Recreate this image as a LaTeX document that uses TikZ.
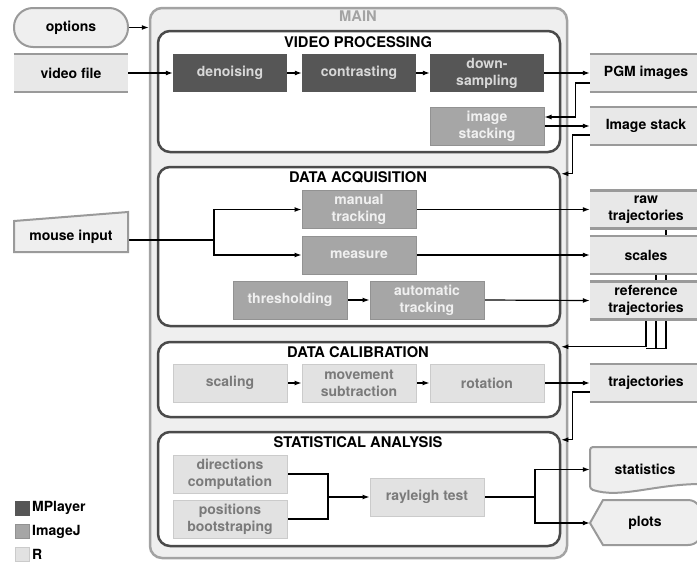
\documentclass[tikz,border=0pt]{standalone}
\usepackage{fontspec}
\setmainfont{TeX Gyre Heros}
\usetikzlibrary{arrows.meta}
\definecolor{mpl}{HTML}{565656}
\definecolor{mptext}{HTML}{D8D8D8}
\definecolor{ij}{HTML}{A6A6A6}
\definecolor{ijb}{HTML}{929292}
\definecolor{ijtext}{HTML}{F0F0F0}
\definecolor{rr}{HTML}{E2E2E2}
\definecolor{rrb}{HTML}{CBCBCB}
\definecolor{rrtext}{HTML}{7A7A7A}
\definecolor{outf}{HTML}{E8E8E8}
\definecolor{outb}{HTML}{9A9A9A}
\definecolor{mainf}{HTML}{EFEFEF}
\definecolor{mainb}{HTML}{A3A3A3}
\definecolor{subb}{HTML}{4A4A4A}
\pgfdeclarelayer{bg}
\pgfdeclarelayer{edges}
\pgfsetlayers{bg,edges,main}
\begin{document}
\begin{tikzpicture}[x=1pt,y=-1pt,
  every node/.style={font=\fontsize{14}{17}\selectfont\bfseries, align=center, inner sep=0pt},
  proc/.style={rectangle, minimum width=114pt, minimum height=38pt},
  mp/.style={proc, fill=mpl, text=mptext},
  ijn/.style={proc, fill=ij, draw=ijb, line width=1pt, text=ijtext},
  rn/.style={proc, fill=rr, draw=rrb, line width=1pt, text=rrtext},
  outn/.style={rectangle, fill=outf, minimum width=112pt, minimum height=38pt, text=black},
  subbox/.style={rectangle, draw=subb, fill=white, line width=2.5pt, rounded corners=12pt, minimum width=402pt},
  title/.style={text=black, font=\fontsize{14.7}{17}\selectfont\bfseries},
  arr/.style={-{Latex[length=7pt,width=5pt]}, line width=1.2pt},
  ln/.style={line width=1.2pt},
  shapeline/.style={draw=outb, fill=mainf, line width=2pt}
]
\useasboundingbox (0,0) rectangle (697,562);

\begin{pgfonlayer}{bg}
  \node[draw=mainb, fill=mainf, line width=2.5pt, rounded corners=12pt,
        minimum width=417pt, minimum height=550pt] (main) at (358.5,283) {};
  \node[subbox, minimum height=121pt] (vp) at (359,91.5) {};
  \node[subbox, minimum height=159pt] (da) at (359,246.5) {};
  \node[subbox, minimum height=75pt] (dc) at (359,379.5) {};
  \node[subbox, minimum height=114pt] (sa) at (359,489) {};
\end{pgfonlayer}

% titles
\node[title, text=mainb] (tmain) at (358,16) {MAIN};
\node[title] (tvp) at (358,42) {VIDEO PROCESSING};
\node[title] (tda) at (358,177) {DATA ACQUISITION};
\node[title] (tdc) at (358,352) {DATA CALIBRATION};
\node[title] (tsa) at (358,442) {STATISTICAL ANALYSIS};

% inputs
\node[shapeline, rounded corners=19pt, minimum width=114pt, minimum height=39pt] (options) at (71,27.5) {options};
\node[outn, minimum width=114pt] (video) at (71,73) {video file};
\filldraw[shapeline] (14,221) -- (128,212) -- (128,252) -- (14,252) -- cycle;
\node[minimum width=114pt, minimum height=30pt] (mouse) at (71,237) {mouse input};

% video processing
\node[mp] (denoise) at (230,73) {denoising};
\node[mp] (contrast) at (359,73) {contrasting};
\node[mp] (down) at (487,73) {down-\\sampling};
\node[ijn] (istack) at (487,126) {image\\stacking};

% data acquisition
\node[ijn] (manual) at (359,209.5) {manual\\tracking};
\node[ijn] (measure) at (359,255) {measure};
\node[ijn] (thresh) at (290,300) {thresholding};
\node[ijn] (auto) at (427,300) {automatic\\tracking};

% data calibration
\node[rn] (scaling) at (230,383) {scaling};
\node[rn] (movement) at (359,383) {movement\\subtraction};
\node[rn] (rotation) at (487,383) {rotation};

% statistical analysis
\node[rn] (directions) at (230,474) {directions\\computation};
\node[rn] (positions) at (230,519) {positions\\bootstraping};
\node[rn] (rayleigh) at (427,497) {rayleigh test};

% outputs
\node[outn] (pgm) at (646,73) {PGM images};
\node[outn] (isout) at (646,126) {Image stack};
\node[outn] (raw) at (646,209.5) {raw\\trajectories};
\node[outn] (scales) at (646,255) {scales};
\node[outn] (ref) at (646,300.5) {reference\\trajectories};
\node[outn] (traj) at (646,383) {trajectories};
\foreach \n in {video,pgm,isout,raw,scales,ref,traj}
  \draw[draw=outb, line width=2.5pt] (\n.north west) -- (\n.north east) (\n.south west) -- (\n.south east);

\filldraw[shapeline, rounded corners=3pt] (590,489) -- (590,447) -- (704,447) -- (704,484)
  .. controls (655,484) and (620,499) .. (590,489) -- cycle;
\node[minimum width=110pt, minimum height=36pt] (stats) at (645,469.5) {statistics};
\filldraw[shapeline] (590,523) -- (603,500) -- (688,500) .. controls (697,500) and (703,508) .. (703,523)
  .. controls (703,538) and (697,545) .. (688,545) -- (603,545) -- cycle;
\node[minimum width=110pt, minimum height=45pt] (plots) at (645,523) {plots};

% legend
\node[fill=mpl, minimum size=15pt] (lg1) at (22.5,508) {};
\node[fill=ij, draw=ijb, line width=1pt, minimum size=14pt] (lg2) at (22.5,531.5) {};
\node[fill=rr, draw=rrb, line width=1pt, minimum size=14pt] (lg3) at (22.5,554.5) {};
\node[anchor=west] (lt1) at (32,508) {MPlayer};
\node[anchor=west] (lt2) at (32,531.5) {ImageJ};
\node[anchor=west] (lt3) at (32,554.5) {R};

\coordinate (mj) at (214,240);
\coordinate (sj) at (328,497);
\coordinate (rj) at (535,497);

\begin{pgfonlayer}{edges}
  \draw[arr] (options.east) -- (options.east -| main.west);
  \draw[arr] (video.east) -- (denoise.west);
  \draw[arr] (denoise.east) -- (contrast.west);
  \draw[arr] (contrast.east) -- (down.west);
  \draw[arr] (down.east) -- (pgm.west);
  \draw[arr] ([yshift=-10pt]pgm.west) -- ([xshift=-14pt,yshift=-10pt]pgm.west) |- ([yshift=9pt]istack.east);
  \draw[arr] (istack.east) -- (isout.west);
  \draw[arr] ([yshift=-9pt]isout.west) -- ([xshift=-17pt,yshift=-9pt]isout.west) |- ([yshift=-8pt]da.north east);
  \draw[ln] ([yshift=-3pt]mouse.east) -- (mj);
  \draw[arr] (mj) |- (manual.west);
  \draw[arr] (mj) |- (measure.west);
  \draw[arr] (manual.east) -- (raw.west);
  \draw[arr] (measure.east) -- (scales.west);
  \draw[arr] (thresh.east) -- (auto.west);
  \draw[arr] (auto.east) -- (ref.west);
  \draw[ln] ([xshift=20pt]raw.south) -- ([xshift=20pt,yshift=-29pt]ref.south);
  \draw[ln] ([xshift=10pt]scales.south) -- ([xshift=10pt,yshift=-29pt]ref.south);
  \draw[arr] (ref.south) |- ([yshift=-6pt]dc.north east);
  \draw[ln] ([yshift=-29pt]ref.south) -- ([xshift=20pt,yshift=-29pt]ref.south);
  \draw[arr] (scaling.east) -- (movement.west);
  \draw[arr] (movement.east) -- (rotation.west);
  \draw[arr] (rotation.east) -- (traj.west);
  \draw[arr] ([yshift=-9pt]traj.west) -- ([xshift=-17pt,yshift=-9pt]traj.west) |- ([yshift=-9pt]sa.north east);
  \draw[ln] (directions.east) -| (sj);
  \draw[ln] (positions.east) -| (sj);
  \draw[arr] (sj) -- (rayleigh.west);
  \draw[ln] (rayleigh.east) -- (rj);
  \draw[arr] (rj) |- (stats.west);
  \draw[arr] (rj) |- (plots.west);
\end{pgfonlayer}
\end{tikzpicture}
\end{document}
